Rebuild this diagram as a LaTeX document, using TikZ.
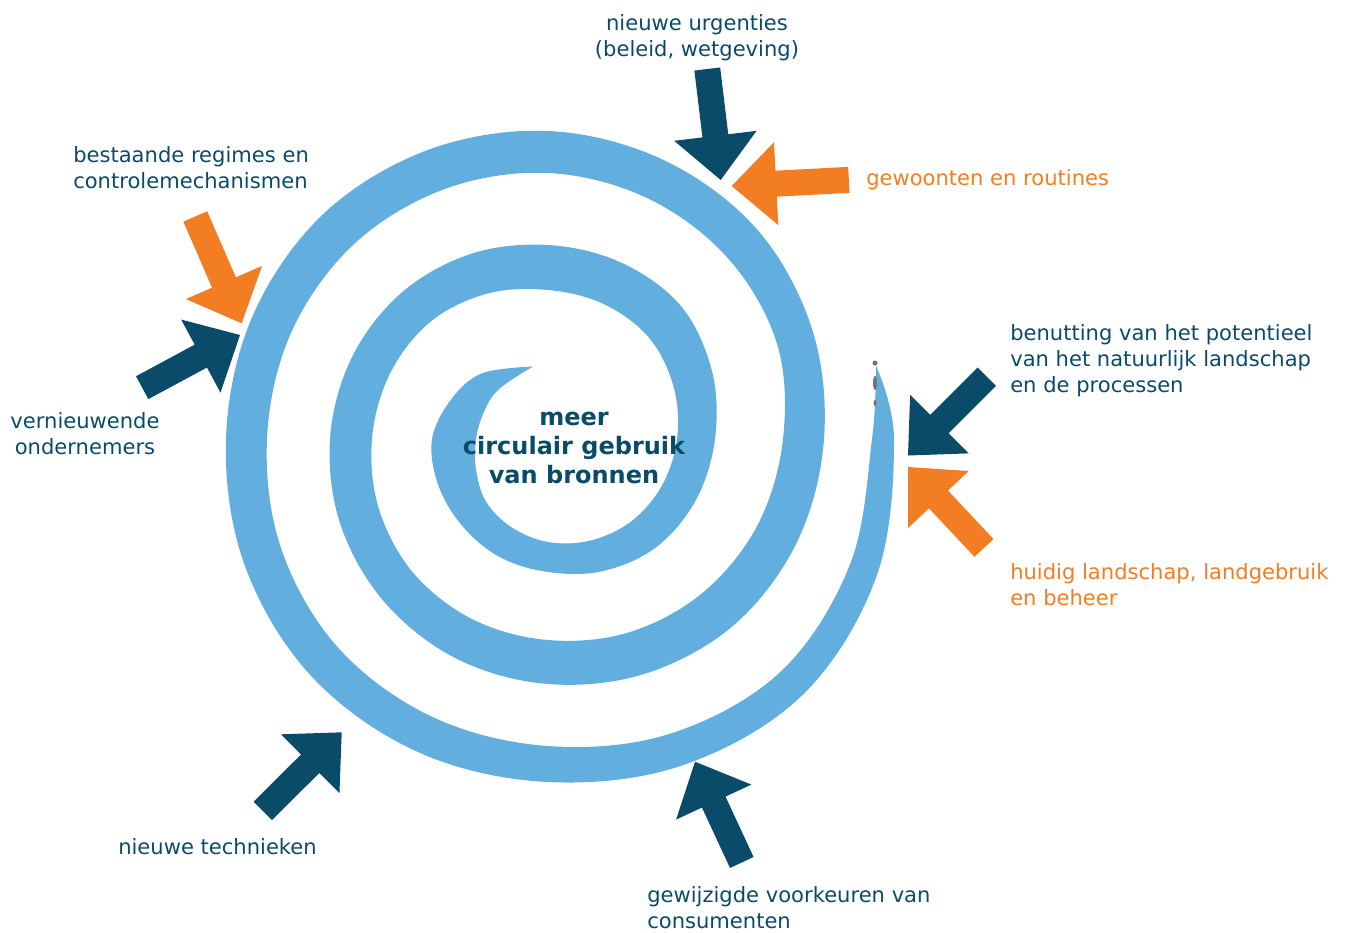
\documentclass[tikz,border=0pt]{standalone}
\usepackage{fontspec}
\setmainfont{DejaVu Sans}
\usepackage{tikz}

\definecolor{spiralblue}{RGB}{97,174,223}
\definecolor{petrol}{RGB}{10,75,105}
\definecolor{oranje}{RGB}{243,125,34}

% fat arrow: tip, direction, length, colour
\newcommand{\blokpijl}[4]{%
\fill[#4,shift={#1},rotate=#2] (0,0) -- (-44.5,-41.5) -- (-44.5,-13) -- (-#3,-13) -- (-#3,13) -- (-44.5,13) -- (-44.5,41.5) -- cycle;}

\begin{document}
\begin{tikzpicture}[x=0.75pt,y=0.75pt,yscale=-1,xscale=1,
  lbl/.style={font=\fontsize{15.8}{19.5}\selectfont,text=petrol,inner sep=0pt,align=left}]
\useasboundingbox (0,0) rectangle (1348,932);

% spiral band, outer edge out, inner edge back
\begin{scope}[shift={(548,439)}]
\fill[spiralblue] plot[smooth,tension=0.6] coordinates {(258.3:74) (225:93) (202.5:104.5) (180:116) (157.5:119) (135:122) (112.5:127.5) (90:133) (67.5:143) (45:153) (22.5:160) (0:167) (-22.5:177.5) (-45:188) (-67.5:191) (-90:194) (-112.5:200.5) (-135:207) (-157.5:212.5) (-180:218) (-202.5:224.5) (-225:231) (-247.5:238) (-270:245) (-292.5:254) (-315:263) (-337.5:269.5) (-360:276) (-382.5:286) (-405:296) (-427.5:302) (-450:308) (-472.5:313) (-495:318) (-517.5:320) (-540:322) (-562.5:328.5) (-585:335) (-607.5:339) (-630:343) (-652.5:353) (-675:361) (-697.5:356) (-720:346) (-732.6:336)}
 -- plot[smooth,tension=0.6] coordinates {(-732.6:336) (-720:324) (-697.5:327) (-675:329) (-652.5:319) (-630:307) (-607.5:301) (-585:296) (-562.5:288.5) (-540:281) (-517.5:278) (-495:275) (-472.5:270.5) (-450:266) (-427.5:260.5) (-405:255) (-382.5:248) (-360:235) (-337.5:226.5) (-315:218) (-292.5:209.5) (-270:201) (-247.5:195.5) (-225:190) (-202.5:183) (-180:176) (-157.5:171) (-135:166) (-112.5:157.5) (-90:149) (-67.5:146) (-45:143) (-22.5:136) (0:129) (22.5:123) (45:117) (67.5:110) (90:103) (112.5:95.5) (135:88) (157.5:78) (180:72) (202.5:69.5) (225:70) (258.3:74)} -- cycle;
\end{scope}
% smudge at the end of the spiral
\fill[black!55] (875,363) circle (2.5);
\fill[black!55] (875,383) ellipse (2 and 7);
\fill[black!55] (875,403) ellipse (1.5 and 3);

% arrows
\blokpijl{(720.7,180)}{83.1}{111.8}{petrol}
\blokpijl{(731.7,186)}{177}{117.3}{oranje}
\blokpijl{(241.7,323.3)}{66.5}{116.5}{oranje}
\blokpijl{(240,335)}{-28.3}{111.1}{petrol}
\blokpijl{(341.7,732.3)}{-44.9}{111.4}{petrol}
\blokpijl{(695,761.7)}{245.1}{111.1}{petrol}
\blokpijl{(908,455.5)}{135}{111.4}{petrol}
\blokpijl{(908,467)}{-133.2}{111}{oranje}

% labels
\node[lbl,align=center] (urgenties) at (697,38) {nieuwe urgenties\\(beleid, wetgeving)};
\node[lbl,anchor=west] (regimes) at (73,168) {bestaande regimes en\\controlemechanismen};
\node[lbl,anchor=west,text=oranje] (gewoonten) at (866,180) {gewoonten en routines};
\node[lbl,anchor=west] (benutting) at (1010,361) {benutting van het potentieel\\van het natuurlijk landschap\\en de processen};
\node[lbl,anchor=west,text=oranje] (landschap) at (1010,584.5) {huidig landschap, landgebruik\\en beheer};
\node[lbl,align=center] (ondernemers) at (85,434) {vernieuwende\\ondernemers};
\node[lbl,anchor=west] (technieken) at (118,847) {nieuwe technieken};
\node[lbl,anchor=west] (consumenten) at (647,908) {gewijzigde voorkeuren van\\consumenten};
\node[font=\bfseries\fontsize{18}{21.5}\selectfont,text=petrol,inner sep=0pt,align=center] (kern) at (574,448) {meer\\circulair gebruik\\van bronnen};
\end{tikzpicture}
\end{document}
